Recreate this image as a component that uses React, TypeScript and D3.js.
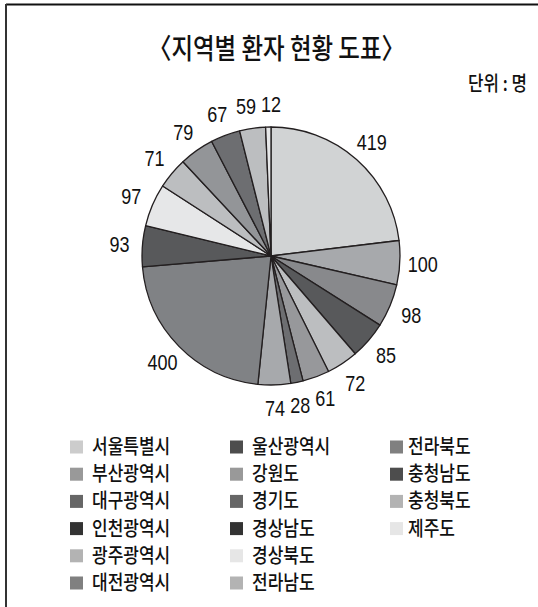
import React from "react";
import * as d3 from "d3";

const regions = [
  "서울특별시", "부산광역시", "대구광역시", "인천광역시", "광주광역시", "대전광역시",
  "울산광역시", "강원도", "경기도", "경상남도", "경상북도", "전라남도",
  "전라북도", "충청남도", "충청북도", "제주도",
];
const patients = [419, 100, 98, 85, 72, 61, 28, 74, 400, 93, 97, 71, 79, 67, 59, 12];
const sliceColors = [
  "#d1d3d4", "#a7a9ac", "#88898c", "#58595b", "#bcbec0", "#97989b",
  "#6d6e71", "#a7a9ac", "#808285", "#58595b", "#e6e7e8", "#bcbec0",
  "#939598", "#6d6e71", "#bcbec0", "#e6e7e8",
];
const legendColors = [
  "#cccccc", "#999999", "#666666", "#333333", "#b3b3b3", "#808080",
  "#4d4d4d", "#999999", "#666666", "#333333", "#e6e6e6", "#b3b3b3",
  "#808080", "#4d4d4d", "#b3b3b3", "#e6e6e6",
];
const title = "〈지역별 환자 현황 도표〉";
const unitLabel = "단위 : 명";

const W = 538;
const H = 607;
const cx = 271;
const cy = 256;
const R = 129;
const labelR = 152;
const KFONT = "'Noto Sans CJK KR', 'Noto Sans', sans-serif";
const NFONT = "'Liberation Sans', Arial, sans-serif";

export default function App() {
  const pie = d3.pie<number>().sort(null).value((d) => d)(patients);
  const arc = d3.arc<d3.PieArcDatum<number>>().innerRadius(0).outerRadius(R);
  const labelArc = d3.arc<d3.PieArcDatum<number>>().innerRadius(labelR).outerRadius(labelR);

  // label positions with simple horizontal overlap resolution
  const labels = pie.map((d, i) => {
    const [x, y] = labelArc.centroid(d);
    const w = String(patients[i]).length * 9.5;
    return { x, y, w, text: String(patients[i]) };
  });
  for (let iter = 0; iter < 20; iter++) {
    for (let i = 0; i < labels.length; i++) {
      const a = labels[i];
      const b = labels[(i + 1) % labels.length];
      if (Math.abs(a.y - b.y) < 16) {
        const minGap = (a.w + b.w) / 2 + 6;
        const dx = b.x - a.x;
        if (Math.abs(dx) < minGap) {
          const push = (minGap - Math.abs(dx)) / 2;
          const s = dx >= 0 ? 1 : -1;
          a.x -= s * push;
          b.x += s * push;
        }
      }
    }
  }

  const colX = [70, 230, 390];
  const rowY = d3.range(6).map((i) => 447 + i * 27.2);

  return (
    <svg width={W} height={H} style={{ position: "absolute", left: 0, top: 0, background: "#fff" }}>
      <rect x={0} y={0} width={W} height={H} fill="#fff" />
      <line x1={6} y1={4.5} x2={W} y2={4.5} stroke="#111" strokeWidth={2} />
      <line x1={6} y1={4} x2={6} y2={H} stroke="#333" strokeWidth={2} />
      <text
        x={148}
        y={59}
        fontFamily={KFONT}
        fontSize={28}
        fontWeight={500}
        fill="#111"
        textLength={257}
        lengthAdjust="spacingAndGlyphs"
      >
        {title}
      </text>
      <text
        transform={`translate(527,91) scale(0.84,1)`}
        textAnchor="end"
        fontFamily={KFONT}
        fontSize={20}
        fontWeight={500}
        fill="#111"
      >
        {unitLabel}
      </text>
      <g transform={`translate(${cx},${cy})`}>
        {pie.map((d, i) => (
          <path key={i} d={arc(d) || ""} fill={sliceColors[i]} stroke="#231f20" strokeWidth={1.3} strokeLinejoin="round" />
        ))}
        {labels.map((l, i) => (
          <text
            key={"l" + i}
            transform={`translate(${l.x},${l.y + 8}) scale(0.82,1)`}
            textAnchor="middle"
            fontFamily={NFONT}
            fontSize={22}
            fill="#111"
          >
            {l.text}
          </text>
        ))}
      </g>
      <g>
        {regions.map((name, i) => {
          const col = Math.floor(i / 6);
          const row = i % 6;
          const x = colX[col];
          const y = rowY[row];
          return (
            <g key={name}>
              <rect x={x} y={y - 6.5} width={13} height={13} fill={legendColors[i]} />
              <text
                transform={`translate(${x + (col === 2 ? 18 : 22)},${y + 7}) scale(0.92,1.08)`}
                fontFamily={KFONT}
                fontSize={18.5}
                fontWeight={500}
                fill="#111"
              >
                {name}
              </text>
            </g>
          );
        })}
      </g>
    </svg>
  );
}
